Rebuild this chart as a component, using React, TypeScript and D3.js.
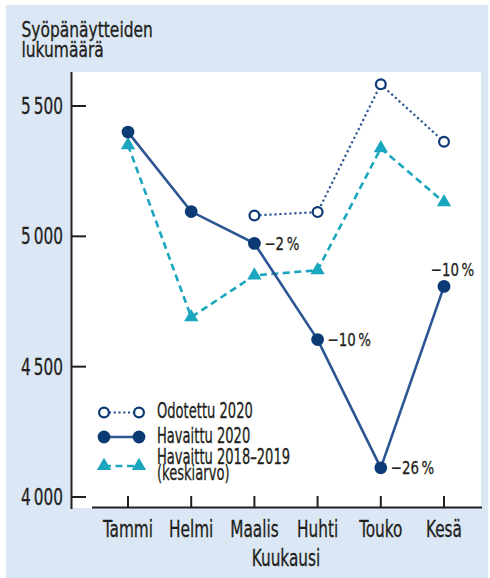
import React from "react";
import * as d3 from "d3";

const months = ["Tammi", "Helmi", "Maalis", "Huhti", "Touko", "Kesä"];
const observed2020 = [5400, 5095, 4973, 4604, 4112, 4808];
const expected2020: (number | null)[] = [null, null, 5080, 5093, 5583, 5363];
const observed1819 = [5350, 4690, 4850, 4870, 5338, 5131];
const yTicks = [4000, 4500, 5000, 5500];
const changeLabels: (string | null)[] = [null, null, "\u22122\u2009%", "\u221210\u2009%", "\u221226\u2009%", "\u221210\u2009%"];
const titleLines = ["Syöpänäytteiden", "lukumäärä"];
const legendLabels = ["Odotettu 2020", "Havaittu 2020", "Havaittu 2018–2019", "(keskiarvo)"];

const FONT = "'DejaVu Sans Condensed', 'DejaVu Sans', sans-serif";
const NAVY = "#0b3a74";
const LINE = "#2b5593";
const TEAL = "#1ba6bf";
const BG = "#dbe7f4";
const INK = "#231f20";

type TProps = {
  x: number;
  y: number;
  size: number;
  sx: number;
  anchor?: "start" | "middle" | "end";
  lines: string[];
  lh?: number;
};

function T({ x, y, size, sx, anchor = "start", lines, lh = 0 }: TProps) {
  return (
    <text
      transform={`translate(${x},${y}) scale(${sx},1)`}
      fontSize={size}
      textAnchor={anchor}
      fill={INK}
      stroke={INK}
      strokeWidth={0.3}
    >
      {lines.map((l, i) => (
        <tspan key={i} x={0} dy={i === 0 ? 0 : lh}>
          {l}
        </tspan>
      ))}
    </text>
  );
}

export default function App() {
  const W = 490, H = 578;
  const x = d3.scalePoint<string>().domain(months).range([128, 444]);
  const y = d3.scaleLinear().domain([4000, 5500]).range([497, 106]);

  const line = d3.line<[number, number]>().x(d => d[0]).y(d => d[1]);
  const obsPts = observed2020.map((v, i) => [x(months[i])!, y(v)] as [number, number]);
  const expPts = expected2020
    .map((v, i) => (v == null ? null : ([x(months[i])!, y(v)] as [number, number])))
    .filter((p): p is [number, number] => p !== null);
  const avgPts = observed1819.map((v, i) => [x(months[i])!, y(v)] as [number, number]);

  const tri = d3.symbol().type(d3.symbolTriangle).size(88)();
  const fmt = (t: number) => d3.format(",")(t).replace(",", "\u2009");

  return (
    <svg width={W} height={H} style={{ position: "absolute", left: 0, top: 0 }} fontFamily={FONT}>
      <rect x={0} y={0} width={W} height={H} fill="#ffffff" />
      <rect x={6} y={5} width={482} height={573} fill={BG} />
      <rect x={72} y={72} width={409} height={436} fill="#ffffff" />

      <T x={21.5} y={36.5} size={21} sx={0.82} lines={titleLines} lh={21} />

      {/* y axis */}
      <line x1={71.5} x2={71.5} y1={72} y2={509} stroke={INK} strokeWidth={2} />
      {yTicks.map(t => (
        <g key={t}>
          <line x1={71} x2={86} y1={y(t)} y2={y(t)} stroke={INK} strokeWidth={2} />
          <T x={63} y={y(t) + 8} size={23} sx={0.74} anchor="end" lines={[fmt(t)]} />
        </g>
      ))}

      {/* x axis */}
      <line x1={92} x2={482} y1={507.5} y2={507.5} stroke={INK} strokeWidth={2} />
      {months.map(m => (
        <g key={m}>
          <line x1={x(m)!} x2={x(m)!} y1={496} y2={508} stroke={INK} strokeWidth={2} />
          <T x={x(m)!} y={536.5} size={23} sx={0.74} anchor="middle" lines={[m]} />
        </g>
      ))}
      <T x={286} y={566} size={23} sx={0.74} anchor="middle" lines={["Kuukausi"]} />

      {/* series lines */}
      <path d={line(expPts)!} fill="none" stroke={LINE} strokeWidth={2.2} strokeDasharray="2.2,2.8" />
      <path d={line(avgPts)!} fill="none" stroke={TEAL} strokeWidth={2.6} strokeDasharray="7,4.5" />
      <path d={line(obsPts)!} fill="none" stroke={LINE} strokeWidth={2.6} />

      {/* markers */}
      {avgPts.map((p, i) => (
        <path key={"t" + i} d={tri!} transform={`translate(${p[0]},${p[1]})`} fill={TEAL} />
      ))}
      {expPts.map((p, i) => (
        <circle key={"e" + i} cx={p[0]} cy={p[1]} r={4.9} fill="#ffffff" stroke={NAVY} strokeWidth={2.2} />
      ))}
      {obsPts.map((p, i) => (
        <circle key={"o" + i} cx={p[0]} cy={p[1]} r={6.4} fill={NAVY} />
      ))}

      {/* change labels */}
      {changeLabels.map((l, i) => {
        if (!l) return null;
        const p = obsPts[i];
        const above = i === months.length - 1;
        return (
          <T
            key={"c" + i}
            x={above ? p[0] + 8.5 : p[0] + 10}
            y={above ? p[1] - 10.5 : p[1] + 6.5}
            size={18.5}
            sx={0.8}
            anchor={above ? "middle" : "start"}
            lines={[l]}
          />
        );
      })}

      {/* legend */}
      <g>
        <line x1={104} x2={139} y1={412.5} y2={412.5} stroke={LINE} strokeWidth={2} strokeDasharray="2.2,2.6" />
        <circle cx={104} cy={412.5} r={4.9} fill="#fff" stroke={NAVY} strokeWidth={2.2} />
        <circle cx={139} cy={412.5} r={4.9} fill="#fff" stroke={NAVY} strokeWidth={2.2} />
        <T x={157} y={418.3} size={20.5} sx={0.71} lines={[legendLabels[0]]} />

        <line x1={104} x2={139} y1={437} y2={437} stroke={LINE} strokeWidth={2.6} />
        <circle cx={104} cy={437} r={6.4} fill={NAVY} />
        <circle cx={139} cy={437} r={6.4} fill={NAVY} />
        <T x={157} y={443.3} size={20.5} sx={0.71} lines={[legendLabels[1]]} />

        <line x1={104} x2={139} y1={466} y2={466} stroke={TEAL} strokeWidth={2.6} strokeDasharray="7,4.5" />
        <path d={tri!} transform="translate(104,466)" fill={TEAL} />
        <path d={tri!} transform="translate(139,466)" fill={TEAL} />
        <T x={157} y={463.8} size={20.5} sx={0.71} lines={[legendLabels[2], legendLabels[3]]} lh={16.5} />
      </g>
    </svg>
  );
}
